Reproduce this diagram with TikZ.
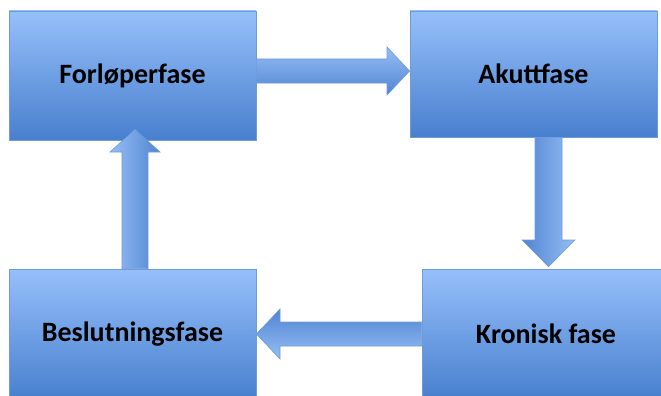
\documentclass[tikz,border=0pt]{standalone}
\usepackage{fontspec}
\setmainfont{Carlito}
\usetikzlibrary{calc}
\definecolor{boxtop}{RGB}{150,192,250}
\definecolor{boxbot}{RGB}{72,127,206}
\definecolor{boxline}{RGB}{110,155,217}
\definecolor{arrlight}{RGB}{150,190,245}
\definecolor{arrdark}{RGB}{80,132,210}
\tikzset{
  phasebox/.style={rectangle, draw=boxline, line width=0.8pt, top color=boxtop, bottom color=boxbot,
    inner sep=0pt, font=\fontsize{28}{32}\selectfont\bfseries, text=black},
  fatarrow/.style={draw=boxline, line width=0.6pt, line join=miter}
}
\begin{document}
\begin{tikzpicture}[x=1pt,y=-1pt]
\useasboundingbox (0,0) rectangle (661,396);
\clip (0,0) rectangle (661,396);
\node[phasebox, minimum width=247pt, minimum height=129pt] (tl) at (132.5,75.5) {Forløperfase};
\node[phasebox, minimum width=247pt, minimum height=126pt] (tr) at (533.5,74) {Akuttfase};
\node[phasebox, minimum width=247pt, minimum height=130pt] (bl) at (132.5,334) {Beslutningsfase};
\node[phasebox, minimum width=248pt, minimum height=130pt] (br) at (546,334) {Kronisk fase};
% right arrow
\path[fatarrow, top color=arrlight, bottom color=arrdark]
  (tl.east |- 0,59) -- (387,59) -- (387,47) -- (tr.west |- 0,71) -- (387,95) -- (387,83) -- (tl.east |- 0,83) -- cycle;
% down arrow
\path[fatarrow, left color=arrdark, right color=arrlight]
  (535,0 |- tr.south) -- (535,240) -- (522,240) -- ($(548.5,0 |- br.north)+(0,-2)$) -- (575,240) -- (562,240) -- (562,0 |- tr.south) -- cycle;
% up arrow
\path[fatarrow, left color=arrlight, right color=arrdark]
  (122,0 |- bl.north) -- (122,152) -- (110,152) -- ($(135,0 |- tl.south)+(0,-11)$) -- (160,152) -- (148,152) -- (148,0 |- bl.north) -- cycle;
% left arrow
\path[fatarrow, top color=arrdark, bottom color=arrlight]
  (br.west |- 0,322) -- (280,322) -- (280,309) -- (bl.east |- 0,334) -- (280,359) -- (280,346) -- (br.west |- 0,346) -- cycle;
\end{tikzpicture}
\end{document}
